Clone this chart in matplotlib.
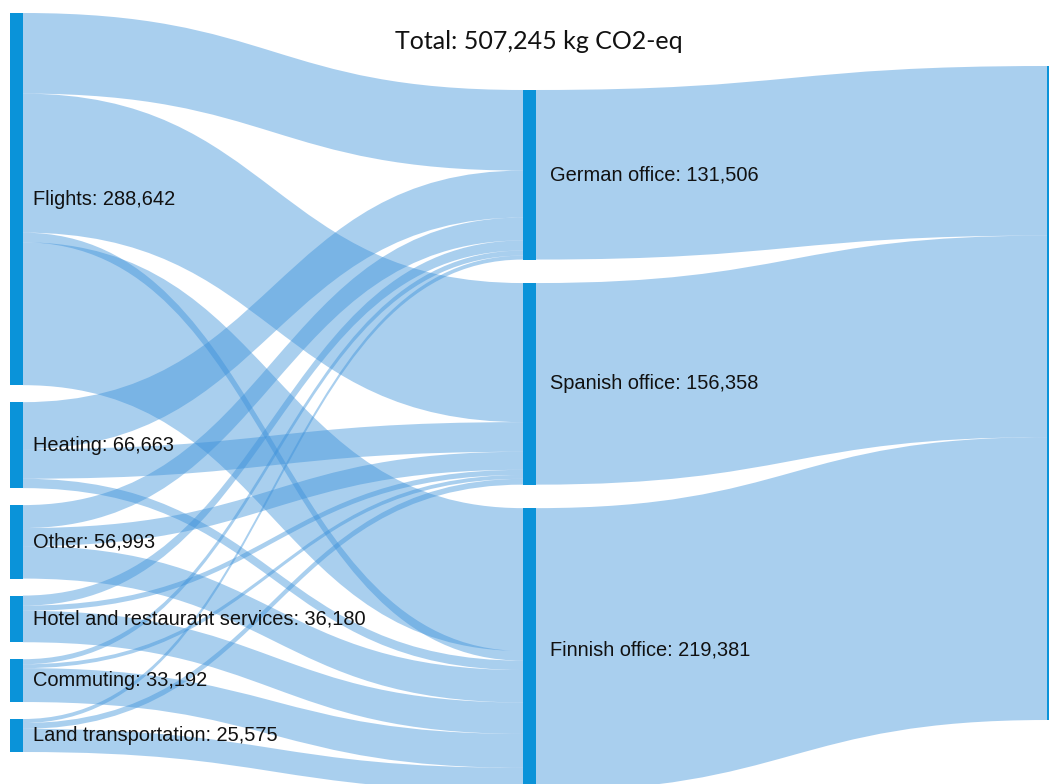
import matplotlib
matplotlib.use("Agg")
import matplotlib.pyplot as plt
from matplotlib.path import Path
from matplotlib.patches import PathPatch, Rectangle

plt.rcParams['font.family'] = ['Liberation Sans', 'DejaVu Sans']

# --- data (kg CO2-eq) ---
categories = ["Flights", "Heating", "Other", "Hotel and restaurant services",
              "Commuting", "Land transportation"]
category_totals = [288642, 66663, 56993, 36180, 33192, 25575]
offices = ["German office", "Spanish office", "Finnish office"]
office_totals = [131506, 156358, 219381]
grand_total = 507245

# category -> office links (flights->finnish comes in two parts)
link_src = [0, 0, 0, 0, 1, 1, 1, 2, 2, 2, 3, 3, 3, 4, 4, 4, 5, 5, 5]
link_dst = [0, 1, 2, 2, 0, 1, 2, 0, 1, 2, 0, 1, 2, 0, 1, 2, 0, 1, 2]
link_val = [62506, 107858, 7500, 110778,
            36400, 23000, 7263,
            17800, 14000, 25193,
            7800, 4000, 24380,
            3900, 3000, 26292,
            3100, 4500, 17975]

# --- layout ---
W, H = 1049, 784
scale = 654 / grand_total
col_x = [10, 523, 1047]
node_w = 13
col_top = [13, 90, 66]
col_pad = [17, 23.5, 0]
node_color = "#0a93d9"
link_color = (59 / 255, 145 / 255, 218 / 255, 0.435)


def stack(values, top, pad):
    spans = []
    y = top
    for v in values:
        spans.append([y, y + v * scale])
        y += v * scale + pad
    return spans


def ribbon(ax, x0, a0, a1, x1, b0, b1):
    xm = (x0 + x1) / 2
    verts = [(x0, a0), (xm, a0), (xm, b0), (x1, b0),
             (x1, b1), (xm, b1), (xm, a1), (x0, a1), (x0, a0)]
    codes = [Path.MOVETO, Path.CURVE4, Path.CURVE4, Path.CURVE4,
             Path.LINETO, Path.CURVE4, Path.CURVE4, Path.CURVE4, Path.CLOSEPOLY]
    ax.add_patch(PathPatch(Path(verts, codes), facecolor=link_color,
                           edgecolor="none", lw=0))


fig = plt.figure(figsize=(W / 100, H / 100), dpi=100)
ax = fig.add_axes([0, 0, 1, 1])
ax.set_xlim(0, W)
ax.set_ylim(H, 0)
ax.axis("off")

left_nodes = stack(category_totals, col_top[0], col_pad[0])
mid_nodes = stack(office_totals, col_top[1], col_pad[1])
right_node = stack([grand_total], col_top[2], col_pad[2])[0]

# source side cursor: list order
src_pos = {}
cur = [n[0] for n in left_nodes]
for i, (s, v) in enumerate(zip(link_src, link_val)):
    src_pos[i] = (cur[s], cur[s] + v * scale)
    cur[s] += v * scale

# target side: by category, repeated pairs reversed
dst_pos = {}
cur = [n[0] for n in mid_nodes]
for i in sorted(range(len(link_val)), key=lambda k: (link_src[k], -k)):
    d = link_dst[i]
    dst_pos[i] = (cur[d], cur[d] + link_val[i] * scale)
    cur[d] += link_val[i] * scale

for i in range(len(link_val)):
    a0, a1 = src_pos[i]
    b0, b1 = dst_pos[i]
    ribbon(ax, col_x[0] + node_w, a0, a1, col_x[1], b0, b1)

# offices -> total
y = right_node[0]
for span, v in zip(mid_nodes, office_totals):
    ribbon(ax, col_x[1] + node_w, span[0], span[1], col_x[2], y, y + v * scale)
    y += v * scale

# nodes and labels
for name, v, span in zip(categories, category_totals, left_nodes):
    ax.add_patch(Rectangle((col_x[0], span[0]), node_w, span[1] - span[0],
                           facecolor=node_color, edgecolor="none"))
    ax.text(col_x[0] + node_w + 10, (span[0] + span[1]) / 2, f"{name}: {v:,}",
            fontsize=14.4, va="center", ha="left", color="#111111")

for name, v, span in zip(offices, office_totals, mid_nodes):
    ax.add_patch(Rectangle((col_x[1], span[0]), node_w, span[1] - span[0],
                           facecolor=node_color, edgecolor="none"))
    ax.text(col_x[1] + node_w + 14, (span[0] + span[1]) / 2, f"{name}: {v:,}",
            fontsize=14.4, va="center", ha="left", color="#111111")

ax.add_patch(Rectangle((col_x[2], right_node[0]), node_w,
                       right_node[1] - right_node[0],
                       facecolor=node_color, edgecolor="none"))

ax.text(539, 41, f"Total: {grand_total:,} kg CO2-eq", fontsize=18,
        family=["Lato", "DejaVu Sans"], ha="center", va="center", color="#111111")

fig.savefig("out.png", dpi=100)
